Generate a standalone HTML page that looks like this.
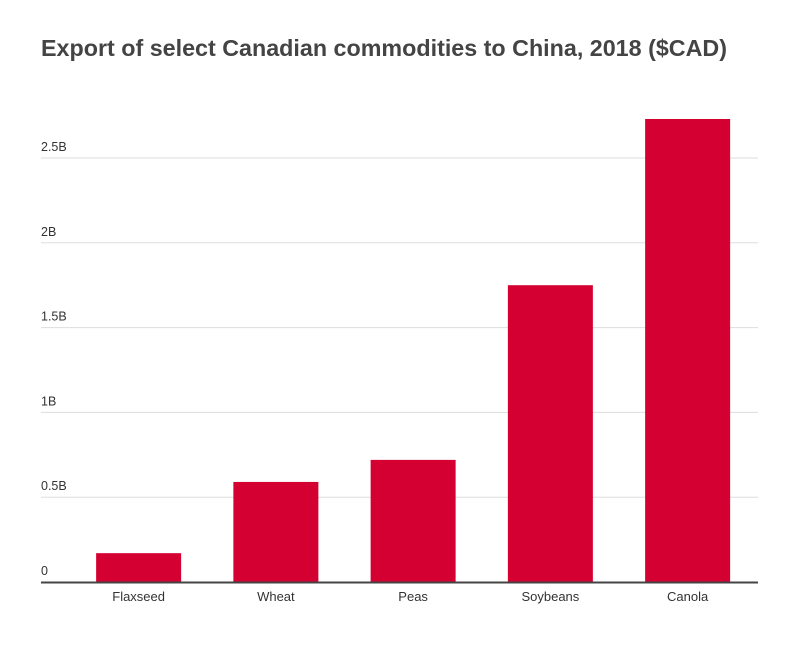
<!DOCTYPE html>
<html><head><meta charset="utf-8"><style>
body{margin:0;background:#fff;width:800px;height:647px;overflow:hidden;font-family:"Liberation Sans",sans-serif}
</style></head><body>
<svg id="chart" width="800" height="647" xmlns="http://www.w3.org/2000/svg">
<text x="41" y="56" font-size="23.3" font-weight="bold" fill="#444" font-family="Liberation Sans, sans-serif" textLength="686" lengthAdjust="spacingAndGlyphs">Export of select Canadian commodities to China, 2018 ($CAD)</text>
<g id="grid"></g><g id="bars"></g><g id="xlabels"></g>
</svg>
<script>
const categories=["Flaxseed","Wheat","Peas","Soybeans","Canola"];
const values=[0.17,0.59,0.72,1.75,2.73];
const ticks=[0,0.5,1,1.5,2,2.5];
const tickLabels=["0","0.5B","1B","1.5B","2B","2.5B"];
const NS="http://www.w3.org/2000/svg";
const x0=41,x1=758,y0=582,pxPerB=169.6;
const bandStart=70,step=137.25,barW=85;
const y=v=>y0-v*pxPerB;
const xc=i=>bandStart+step*(i+0.5);
function mk(t,a,p){const e=document.createElementNS(NS,t);for(const k in a)e.setAttribute(k,a[k]);p.appendChild(e);return e;}
const grid=document.getElementById('grid'),bars=document.getElementById('bars'),xl=document.getElementById('xlabels');
ticks.forEach((t,i)=>{
 if(t>0){const l=mk('line',{x1:x0,x2:x1,y1:y(t),y2:y(t),stroke:'#ddd','stroke-width':1},grid);
 
 }
 const tx=mk('text',{x:x0,y:y(t)-7,'font-size':12.5,fill:'#333'},grid);tx.textContent=tickLabels[i];
 
 
});
values.forEach((v,i)=>{
 const r=mk('rect',{x:xc(i)-barW/2,y:y(v),width:barW,height:v*pxPerB,fill:'#d50032'},bars);
 
 
 const t=mk('text',{x:xc(i),y:601,'font-size':13,fill:'#333','text-anchor':'middle'},xl);t.textContent=categories[i];
 
 
});
const b=mk('line',{x1:x0,x2:x1,y1:y0+0.5,y2:y0+0.5,stroke:'#444','stroke-width':2},xl);


</script>
</body></html>
